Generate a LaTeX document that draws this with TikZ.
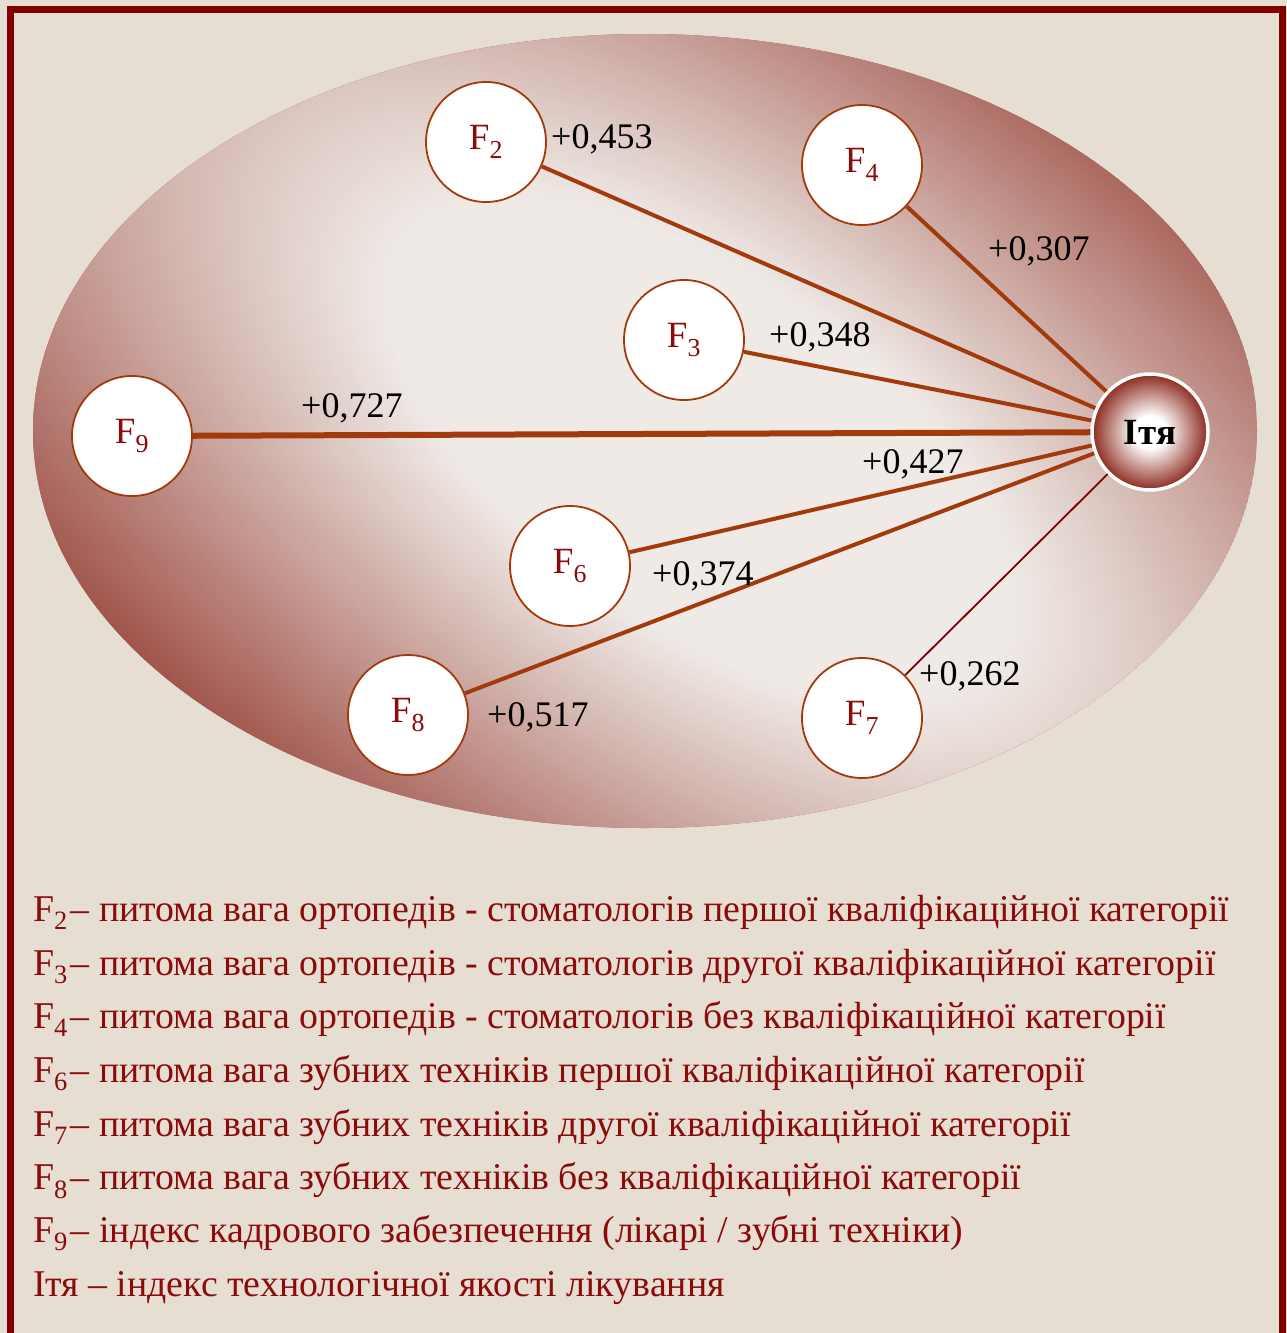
\documentclass[tikz,border=0pt]{standalone}
\usepackage{fontspec}
\setmainfont{Liberation Serif}
\usepackage{tikz}
\usepackage{xcolor}

\definecolor{fon}{HTML}{E6DED3}
\definecolor{ramka}{HTML}{800000}
\definecolor{svitlyj}{HTML}{EFEAE6}
\definecolor{temnyj}{HTML}{A0544A}
\definecolor{liniia}{HTML}{A33A0C}
\definecolor{napys}{HTML}{8B0A0A}
\definecolor{yadro}{HTML}{8C2A1E}

\pgfdeclareradialshading{elipsgrad}{\pgfpointorigin}{%
  color(0bp)=(svitlyj); color(7.2bp)=(svitlyj);
  color(21.6bp)=(temnyj); color(50bp)=(temnyj)}
\pgfdeclareradialshading{yadrograd}{\pgfpointorigin}{%
  color(0bp)=(white); color(7bp)=(white);
  color(25bp)=(yadro); color(50bp)=(yadro)}

\tikzset{
  faktor/.style={circle, draw=liniia, line width=1.8pt, fill=white,
    minimum size=120pt, inner sep=0pt, text=napys,
    font=\fontsize{37}{37}\selectfont},
  vaha/.style={anchor=base west, inner sep=0pt, text=black,
    font=\fontsize{36}{36}\selectfont},
  zviazok/.style={draw=liniia, line width=4pt},
  lehenda/.style={anchor=base west, inner sep=0pt, text=napys,
    font=\fontsize{37.8}{37.8}\selectfont}
}

\begin{document}
\begin{tikzpicture}[x=1pt,y=-1pt]
  \useasboundingbox (0,0) rectangle (1287,1333);
  % Фон
  \fill[fon] (0,0) rectangle (1287,1333);
  % Рамка
  \draw[ramka, line width=7pt] (10.5,9.5) rectangle (1282.5,1350);
  % Еліпс з градієнтом
  \begin{scope}
    \clip (645,431) ellipse (612 and 397);
    \fill[temnyj] (645,431) ellipse (612 and 397);
    \shade[transform canvas={shift={(700,450)},rotate=-35},
      shading=elipsgrad] (-1250,-600) rectangle (1250,600);
  \end{scope}
  % Фактори
  \node[faktor] (F2) at (486,142) {F\textsubscript{2}};
  \node[faktor] (F4) at (862,165) {F\textsubscript{4}};
  \node[faktor] (F3) at (684,340) {F\textsubscript{3}};
  \node[faktor] (F9) at (132,436) {F\textsubscript{9}};
  \node[faktor] (F6) at (570,566) {F\textsubscript{6}};
  \node[faktor] (F8) at (408,715) {F\textsubscript{8}};
  \node[faktor] (F7) at (862,718) {F\textsubscript{7}};
  % Індекс
  \node[circle, draw=white, line width=3.5pt, shading=yadrograd,
    minimum size=116pt, inner sep=0pt,
    font=\fontsize{37}{37}\selectfont\bfseries] (I) at (1150,432) {Iтя};
  % Зв'язки
  \draw[zviazok] (F2) -- (I);
  \draw[zviazok] (F4) -- (I);
  \draw[zviazok] (F3) -- (I);
  \draw[zviazok, line width=6pt] (F9) -- (I);
  \draw[zviazok] (F6) -- (I);
  \draw[zviazok] (F8) -- (I);
  \draw[ramka, line width=1.8pt] (F7) -- (I);
  % Коефіцієнти
  \node[vaha] (w2) at (551,148) {+0,453};
  \node[vaha] (w4) at (988,260) {+0,307};
  \node[vaha] (w3) at (769,346) {+0,348};
  \node[vaha] (w9) at (301,417) {+0,727};
  \node[vaha] (w6a) at (862,473) {+0,427};
  \node[vaha] (w6) at (652,585) {+0,374};
  \node[vaha] (w8) at (487,726) {+0,517};
  \node[vaha] (w7) at (919,685) {+0,262};
  % Легенда
  \node[lehenda] (l2) at (33,921) {F\textsubscript{2}\hspace{3pt}– питома вага ортопедів - стоматологів першої кваліфікаційної категорії};
  \node[lehenda] (l3) at (33,975) {F\textsubscript{3}\hspace{3pt}– питома вага ортопедів - стоматологів другої кваліфікаційної категорії};
  \node[lehenda] (l4) at (33,1028) {F\textsubscript{4}\hspace{3pt}– питома вага ортопедів - стоматологів без кваліфікаційної категорії};
  \node[lehenda] (l6) at (33,1082) {F\textsubscript{6}\hspace{3pt}– питома вага зубних техніків першої кваліфікаційної категорії};
  \node[lehenda] (l7) at (33,1136) {F\textsubscript{7}\hspace{3pt}– питома вага зубних техніків другої кваліфікаційної категорії};
  \node[lehenda] (l8) at (33,1189) {F\textsubscript{8}\hspace{3pt}– питома вага зубних техніків без кваліфікаційної категорії};
  \node[lehenda] (l9) at (33,1242) {F\textsubscript{9}\hspace{3pt}– індекс кадрового забезпечення (лікарі / зубні техніки)};
  \node[lehenda] (lI) at (33,1296) {Iтя – індекс технологічної якості лікування};
\end{tikzpicture}
\end{document}
